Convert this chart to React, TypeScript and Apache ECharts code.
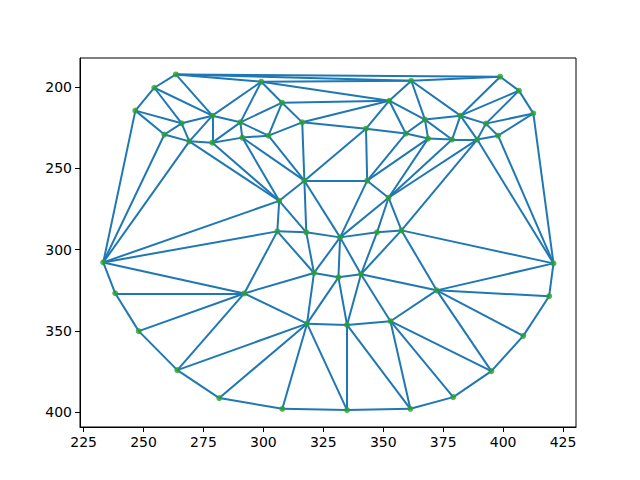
import React, { useEffect, useRef } from "react";
import * as echarts from "echarts";

// landmark positions (image coordinates, y grows downward)
const xs = [
  263.5, 254.5, 246.6, 265.9, 258.7, 269.1, 278.7, 278.7, 290.4, 291.2,
  299.1, 307.8, 302.1, 316.2, 352.5, 361.7, 342.8, 359.4, 317.1, 343.3,
  398.8, 406.6, 412.6, 367.4, 382.2, 392.8, 368.7, 378.7, 389.2, 397.9,
  233.2, 238.2, 292.0, 306.6, 352.2, 305.8, 317.9, 332.0, 347.4, 357.6,
  321.1, 331.3, 340.7, 421.0, 372.3, 419.2, 248.0, 264.1, 281.6, 318.2,
  334.9, 353.0, 307.9, 334.9, 361.3, 408.4, 395.1, 379.2,
];
const ys = [
  192.2, 200.4, 214.5, 222.3, 229.2, 233.4, 217.6, 234.2, 221.7, 231.1,
  196.7, 209.6, 229.9, 221.7, 208.4, 196.1, 225.6, 228.6, 257.6, 257.6,
  193.6, 202.2, 216.2, 220.0, 217.6, 222.5, 231.7, 232.3, 232.3, 229.9,
  307.9, 326.9, 327.0, 270.0, 268.1, 288.8, 289.4, 292.5, 289.4, 288.2,
  314.4, 317.1, 315.2, 308.5, 325.1, 328.7, 350.2, 374.2, 391.4, 345.6,
  346.4, 344.1, 398.0, 398.8, 398.0, 353.1, 374.8, 390.8,
];
const xTicks = [225, 250, 275, 300, 325, 350, 375, 400, 425];
const yTicks = [200, 250, 300, 350, 400];

// plain Bowyer-Watson, same idea as triplot's default triangulation
function delaunayEdges(x: number[], y: number[]) {
  const n = x.length;
  const px = x.concat([-1e5, 1e5, 0]);
  const py = y.concat([-1e5, -1e5, 1e5]);
  let tris: number[][] = [[n, n + 1, n + 2]];
  const inCircle = (t: number[], p: number) => {
    const [a, b, c] = t;
    const ax = px[a] - px[p], ay = py[a] - py[p];
    const bx = px[b] - px[p], by = py[b] - py[p];
    const cx = px[c] - px[p], cy = py[c] - py[p];
    const det =
      (ax * ax + ay * ay) * (bx * cy - cx * by) -
      (bx * bx + by * by) * (ax * cy - cx * ay) +
      (cx * cx + cy * cy) * (ax * by - bx * ay);
    const orient =
      (px[b] - px[a]) * (py[c] - py[a]) - (py[b] - py[a]) * (px[c] - px[a]);
    return orient > 0 ? det > 0 : det < 0;
  };
  for (let p = 0; p < n; p++) {
    const bad = tris.filter((t) => inCircle(t, p));
    const count: Record<string, number> = {};
    bad.forEach((t) => {
      for (let k = 0; k < 3; k++) {
        const a = t[k], b = t[(k + 1) % 3];
        const key = a < b ? a + "_" + b : b + "_" + a;
        count[key] = (count[key] || 0) + 1;
      }
    });
    tris = tris.filter((t) => !bad.includes(t));
    Object.keys(count).forEach((key) => {
      if (count[key] === 1) {
        const [a, b] = key.split("_").map(Number);
        tris.push([a, b, p]);
      }
    });
  }
  const edges: Record<string, [number, number]> = {};
  tris
    .filter((t) => t.every((v) => v < n))
    .forEach((t) => {
      for (let k = 0; k < 3; k++) {
        const a = Math.min(t[k], t[(k + 1) % 3]);
        const b = Math.max(t[k], t[(k + 1) % 3]);
        edges[a + "_" + b] = [a, b];
      }
    });
  return Object.values(edges);
}

export default function App() {
  const el = useRef<HTMLDivElement>(null);

  useEffect(() => {
    if (!el.current) return;
    document.body.style.margin = "0";
    const chart = echarts.init(el.current, null, { renderer: "svg" });
    const edges = delaunayEdges(xs, ys);

    const axisCommon = {
      type: "value",
      splitLine: { show: false },
      axisLine: { onZero: false, lineStyle: { color: "#000", width: 1 } },
      axisTick: { length: 5, lineStyle: { color: "#000", width: 1 } },
    };

    chart.setOption({
      animation: false,
      backgroundColor: "#fff",
      grid: {
        left: 80,
        right: 64,
        top: 58,
        bottom: 53,
        show: true,
        borderColor: "#000",
        borderWidth: 1,
      },
      xAxis: {
        ...axisCommon,
        min: 223.5,
        max: 430.4,
        axisTick: { ...axisCommon.axisTick, customValues: xTicks },
        axisLabel: {
          customValues: xTicks,
          color: "#000",
          fontSize: 14,
          fontFamily: "DejaVu Sans",
          margin: 8,
        },
      },
      yAxis: {
        ...axisCommon,
        inverse: true,
        min: 182.1,
        max: 409.2,
        axisTick: { ...axisCommon.axisTick, customValues: yTicks },
        axisLabel: {
          customValues: yTicks,
          color: "#000",
          fontSize: 14,
          fontFamily: "DejaVu Sans",
          margin: 8,
        },
      },
      series: [
        {
          type: "lines",
          coordinateSystem: "cartesian2d",
          silent: true,
          lineStyle: { color: "#1f77b4", width: 2, opacity: 1 },
          data: edges.map(([a, b]) => ({
            coords: [
              [xs[a], ys[a]],
              [xs[b], ys[b]],
            ],
          })),
          z: 2,
        },
        {
          type: "scatter",
          symbol: "circle",
          symbolSize: 6,
          itemStyle: { color: "#2ca02c" },
          data: xs.map((x, i) => [x, ys[i]]),
          z: 3,
        },
      ],
    });

    return () => chart.dispose();
  }, []);

  return (
    <div
      ref={el}
      style={{ width: 640, height: 480, position: "absolute", left: 0, top: 0 }}
    />
  );
}
